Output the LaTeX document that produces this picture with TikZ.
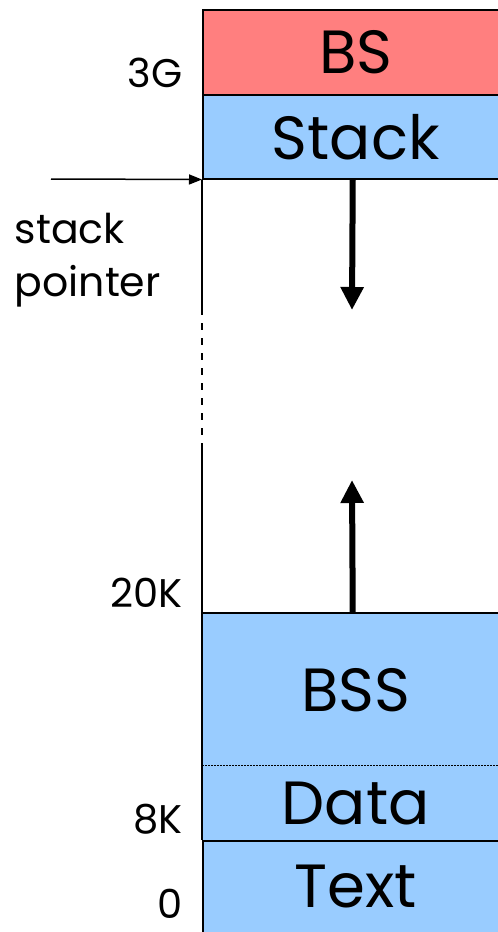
\documentclass[tikz,border=0pt]{standalone}
\usepackage{fontspec}
\setmainfont{Poppins}
\usepackage{tikz}
\usetikzlibrary{arrows.meta,positioning}
\definecolor{segred}{HTML}{FF7F7F}
\definecolor{segblue}{HTML}{99CCFF}
\tikzset{seg/.style={anchor=north west,inner sep=0pt,minimum width=306pt,font=\fontsize{61}{61}\selectfont}}
\tikzset{addr/.style={anchor=base east,inner sep=0pt,font=\fontsize{40}{40}\selectfont}}
\tikzset{growarrow/.style={line width=6pt,-{Triangle[width=22pt,length=23pt]}}}

\begin{document}
\begin{tikzpicture}[x=1pt,y=-1pt,line width=1.5pt]
\useasboundingbox (0,0) rectangle (498,932);
% segments, top to bottom
\node[seg,draw,fill=segred,minimum height=85pt] (bs) at (202,9) {BS};
\node[seg,draw,fill=segblue,minimum height=84pt] (stack) at (202,94) {Stack};
\node[seg,fill=segblue,minimum height=152pt] (bss) at (202,613) {BSS};
\node[seg,fill=segblue,minimum height=75pt] (data) at (202,765) {Data};
\node[seg,draw,fill=segblue,minimum height=92pt] (textseg) at (202,840) {Text};
\draw (bss.north west) -- (bss.north east);
\draw (bss.north west) -- (textseg.north west);
\draw[line width=1pt,dash pattern=on 1.5pt off 1.5pt] (data.north west) -- (data.north east);
% left edge through the gap
\coordinate (gaptop) at (202,315);
\coordinate (gapbot) at (202,443);
\draw (stack.south west) -- (gaptop);
\draw[dash pattern=on 7pt off 8pt] ([yshift=-8pt]gaptop) -- (gapbot);
\draw (gapbot) -- (bss.north west);
% addresses
\node[addr] (a3g) at (183,87) {3G};
\node[addr] (a20k) at (183,607) {20K};
\node[addr] (a8k) at (183,833) {8K};
\node[addr] (a0) at (183,918) {0};
% stack pointer
\node[anchor=north west,align=left,inner sep=0pt,font=\fontsize{41}{53}\selectfont] (sp) at (14,212) {stack\\pointer};
\coordinate (spfrom) at (51,179);
\draw[-{Triangle[width=10pt,length=13pt]}] (spfrom) -- (stack.south west);
% growth directions
\coordinate (downtip) at (352,310);
\coordinate (uptip) at (352,480);
\draw[growarrow] ([xshift=-3pt]stack.south) -- (downtip);
\draw[growarrow] ([xshift=-3pt]bss.north) -- (uptip);
\end{tikzpicture}
\end{document}
